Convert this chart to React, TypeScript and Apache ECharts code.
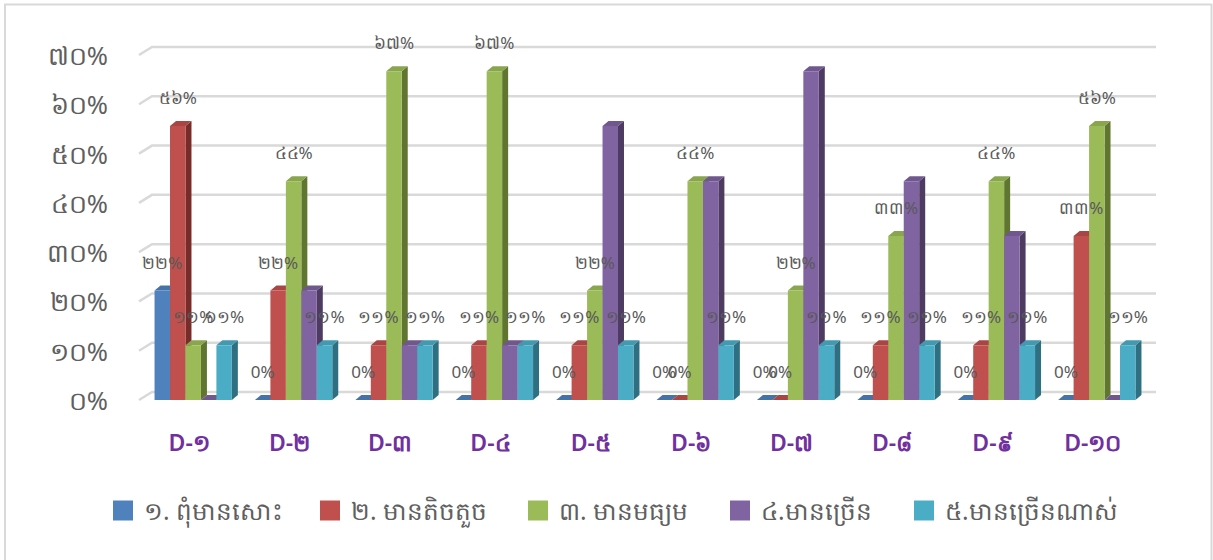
import React, { useEffect, useRef } from "react";
import * as echarts from "echarts";

const categories = ["D-១", "D-២", "D-៣", "D-៤", "D-៥", "D-៦", "D-៧", "D-៨", "D-៩", "D-១០"];
const seriesNames = ["១. ពុំមានសោះ", "២. មានតិចតួច", "៣. មានមធ្យម", "៤.មានច្រើន", "៥.មានច្រើនណាស់"];
const legendLefts = [113, 320, 528, 730, 914];
const yTicks = [0, 10, 20, 30, 40, 50, 60, 70];
const yTickLabels = ["០%", "១០%", "២០%", "៣០%", "៤០%", "៥០%", "៦០%", "៧០%"];

const values1 = [22.2, 0, 0, 0, 0, 0, 0, 0, 0, 0];
const values2 = [55.6, 22.2, 11.1, 11.1, 11.1, 0, 0, 11.1, 11.1, 33.3];
const values3 = [11.1, 44.4, 66.7, 66.7, 22.2, 44.4, 22.2, 33.3, 44.4, 55.6];
const values4 = [0, 22.2, 11.1, 11.1, 55.6, 44.4, 66.7, 44.4, 33.3, 0];
const values5 = [11.1, 11.1, 11.1, 11.1, 11.1, 11.1, 11.1, 11.1, 11.1, 11.1];
const allValues = [values1, values2, values3, values4, values5];

const labels1 = ["២២%", "0%", "0%", "0%", "0%", "0%", "0%", "0%", "0%", "0%"];
const labels2 = ["៥៦%", "២២%", "១១%", "១១%", "១១%", "0%", "0%", "១១%", "១១%", "៣៣%"];
const labels3 = ["១១%", "៤៤%", "៦៧%", "៦៧%", "២២%", "៤៤%", "២២%", "៣៣%", "៤៤%", "៥៦%"];
const labels5 = ["១១%", "១១%", "១១%", "១១%", "១១%", "១១%", "១១%", "១១%", "១១%", "១១%"];
const labelSets: [number, string[]][] = [[0, labels1], [1, labels2], [2, labels3], [4, labels5]];

const frontColors = ["#4f81bd", "#c0504d", "#9bbb59", "#8064a2", "#4bacc6"];
const sideColors = ["#385d8a", "#772c2a", "#5f7530", "#4d3b62", "#2f6f82"];
const topColors = ["#4672a8", "#a94643", "#89a64e", "#70588f", "#4299b0"];

const FONT = '"Noto Sans", "DejaVu Sans", sans-serif';
const DX = 6;
const DY = 5;
const BAR_FRACTION = 0.154;

export default function App() {
  const ref = useRef<HTMLDivElement>(null);
  useEffect(() => {
    const chart = echarts.init(ref.current!, null, { renderer: "svg" });

    const gridSeries: any = {
      type: "custom",
      name: "grid",
      silent: true,
      z: 1,
      data: yTicks.map((t) => [0, t]),
      encode: { x: 0, y: 1 },
      renderItem: (params: any, api: any) => {
        const y = api.coord([0, api.value(1)])[1];
        const cs = params.coordSys;
        return {
          type: "polyline",
          shape: { points: [[cs.x - 4, y], [cs.x + 9, y - 8], [cs.x + cs.width + 9, y - 8]] },
          style: { stroke: "#d9d9d9", lineWidth: 2.5, fill: "none" },
        };
      },
    };

    const barSeries: any[] = seriesNames.map((name, s) => ({
      type: "custom",
      name,
      z: 2,
      itemStyle: { color: frontColors[s] },
      data: allValues[s].map((v, i) => [i, v]),
      encode: { x: 0, y: 1 },
      renderItem: (_p: any, api: any) => {
        const pt = api.coord([api.value(0), api.value(1)]);
        const base = api.coord([api.value(0), 0]);
        const w = api.size([1, 0])[0] * BAR_FRACTION;
        const x0 = pt[0] + (s - 2.5) * w;
        const x1 = x0 + w;
        const yT = pt[1];
        const yB = base[1];
        return {
          type: "group",
          children: [
            {
              type: "polygon",
              shape: { points: [[x1, yT], [x1 + DX, yT - DY], [x1 + DX, yB - DY], [x1, yB]] },
              style: { fill: sideColors[s] },
            },
            {
              type: "polygon",
              shape: { points: [[x0, yT], [x0 + DX, yT - DY], [x1 + DX, yT - DY], [x1, yT]] },
              style: { fill: topColors[s] },
            },
            {
              type: "rect",
              shape: { x: x0, y: yT, width: w, height: yB - yT },
              style: { fill: frontColors[s] },
            },
          ],
        };
      },
    }));

    const labelRows: any[] = [];
    labelSets.forEach(([s, arr]) => {
      arr.forEach((txt, i) => labelRows.push([i, allValues[s][i], s, txt]));
    });
    const labelSeries: any = {
      type: "custom",
      name: "labels",
      silent: true,
      z: 5,
      data: labelRows,
      encode: { x: 0, y: 1 },
      renderItem: (_p: any, api: any) => {
        const pt = api.coord([api.value(0), api.value(1)]);
        const w = api.size([1, 0])[0] * BAR_FRACTION;
        const s = api.value(2);
        const txt = labelRows[_p.dataIndex][3];
        return {
          type: "text",
          x: pt[0] + (s - 2) * w,
          y: pt[1] - 28.5,
          style: {
            text: txt,
            fontSize: 17,
            fontFamily: FONT,
            fill: "#595959",
            align: "center",
            verticalAlign: "middle",
          },
        };
      },
    };

    chart.setOption({
      animation: false,
      backgroundColor: "#ffffff",
      graphic: [
        {
          type: "rect",
          silent: true,
          z: -10,
          shape: { x: 5, y: 4.5, width: 1206.5, height: 600 },
          style: { fill: "none", stroke: "#d9d9d9", lineWidth: 2 },
        },
      ],
      grid: { left: 143, top: 55, width: 1004, height: 345 },
      xAxis: {
        type: "category",
        data: categories,
        axisLine: { show: false },
        axisTick: { show: false },
        splitLine: { show: false },
        axisLabel: {
          margin: 30,
          fontSize: 23,
          fontWeight: 600,
          color: "#7030a0",
          fontFamily: FONT,
          interval: 0,
          padding: [0, 8, 0, 0],
        },
      },
      yAxis: {
        type: "value",
        min: 0,
        max: 70,
        interval: 10,
        axisLine: { show: false },
        axisTick: { show: false },
        splitLine: { show: false },
        axisLabel: {
          margin: 35,
          fontSize: 25.5,
          color: "#5f5f5f",
          fontFamily: FONT,
          formatter: (v: number) => yTickLabels[yTicks.indexOf(v)],
        },
      },
      legend: seriesNames.map((name, i) => ({
        data: [name],
        left: legendLefts[i],
        top: 498,
        padding: 0,
        itemWidth: 20,
        itemHeight: 20,
        itemGap: 0,
        icon: "rect",
        textStyle: { fontSize: 24.7, color: "#5f5f5f", fontFamily: FONT, padding: [0, 0, 34, 6] },
      })),
      series: [gridSeries, ...barSeries, labelSeries],
    });
    return () => chart.dispose();
  }, []);
  return <div ref={ref} style={{ position: "fixed", left: 0, top: 0, width: 1213, height: 560 }} />;
}
